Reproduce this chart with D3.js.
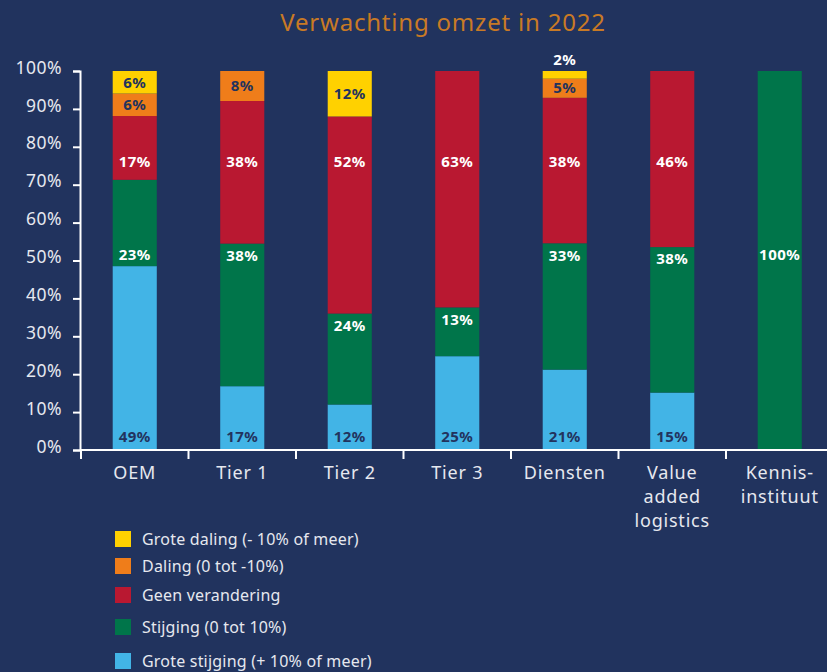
<!DOCTYPE html>
<html>
<head>
<meta charset="utf-8">
<script src="https://cdn.jsdelivr.net/npm/d3@7"></script>
<style>
  body { margin: 0; background: #21335e; }
  svg { display: block; font-family: "Noto Sans", sans-serif; }
</style>
</head>
<body>
<div class="chart"></div>
<script>
// Canvas
var svgWidth = 827;
var svgHeight = 672;

// Data (percentages per category)
var categories = ["OEM", "Tier 1", "Tier 2", "Tier 3", "Diensten", "Value added logistics", "Kennis-instituut"];
var categoryLines = [["OEM"], ["Tier 1"], ["Tier 2"], ["Tier 3"], ["Diensten"], ["Value", "added", "logistics"], ["Kennis-", "instituut"]];
var groteStijging = [49, 17, 12, 25, 21, 15, 0];
var stijging      = [23, 38, 24, 13, 33, 38, 100];
var geenVerandering = [17, 38, 52, 63, 38, 46, 0];
var daling        = [6, 8, 0, 0, 5, 0, 0];
var groteDaling   = [6, 0, 12, 0, 2, 0, 0];
var seriesNames = ["Grote stijging (+ 10% of meer)", "Stijging (0 tot 10%)", "Geen verandering", "Daling (0 tot -10%)", "Grote daling (- 10% of meer)"];
var yTicks = [0, 0.1, 0.2, 0.3, 0.4, 0.5, 0.6, 0.7, 0.8, 0.9, 1];

var keys = ["gs", "s", "g", "d", "gd"];
var colors = { gs: "#42b4e6", s: "#00754a", g: "#b91831", d: "#ef7d1a", gd: "#ffd100" };
var labelColors = { gs: "#22335e", s: "#ffffff", g: "#ffffff", d: "#22335e", gd: "#22335e" };

var rows = categories.map(function(c, i) {
  return { cat: c, gs: groteStijging[i], s: stijging[i], g: geenVerandering[i], d: daling[i], gd: groteDaling[i] };
});

var svg = d3.select(".chart").append("svg")
  .attr("width", svgWidth)
  .attr("height", svgHeight);

svg.append("rect").attr("width", svgWidth).attr("height", svgHeight).attr("fill", "#21335e");

// Title
svg.append("text")
  .attr("x", 443).attr("y", 31)
  .attr("text-anchor", "middle")
  .attr("fill", "#c97a25")
  .attr("font-size", 24)
  .attr("letter-spacing", 0.8)
  .text("Verwachting omzet in 2022");

// Scales
var x = d3.scaleBand().domain(categories).range([81, 833.5]).padding(0);
var y = d3.scaleLinear().domain([0, 1]).range([450, 71]);
var barW = x.bandwidth() * 0.41;

var stacked = d3.stack().keys(keys).offset(d3.stackOffsetExpand)(rows);

// Bars
var layers = svg.append("g").selectAll("g")
  .data(stacked)
  .enter().append("g")
  .attr("fill", function(d) { return colors[d.key]; });

layers.selectAll("rect")
  .data(function(d) { return d; })
  .enter().append("rect")
  .attr("x", function(d) { return x(d.data.cat) + (x.bandwidth() - barW) / 2; })
  .attr("width", barW)
  .attr("y", function(d) { return y(d[1]); })
  .attr("height", function(d) { return y(d[0]) - y(d[1]); });

// Labels
function labelY(key, d) {
  var top = y(d[1]), bottom = y(d[0]);
  if (key === "gs") return y(0) - 13;
  if (key === "s") return Math.max(top + 12, y(0.515));
  if (key === "g") return Math.max(top + 12, y(0.76));
  if (bottom - top < 12) return y(1) - 11;
  return (top + bottom) / 2;
}

stacked.forEach(function(layer) {
  svg.append("g").selectAll("text")
    .data(layer.filter(function(d) { return d.data[layer.key] > 0; }))
    .enter().append("text")
    .attr("x", function(d) { return x(d.data.cat) + x.bandwidth() / 2; })
    .attr("y", function(d) { return labelY(layer.key, d); })
    .attr("dy", "0.35em")
    .attr("text-anchor", "middle")
    .attr("font-size", 15)
    .attr("letter-spacing", 0.5)
    .attr("font-weight", "bold")
    .attr("fill", function(d) {
      return (y(d[0]) - y(d[1]) < 12) ? "#ffffff" : labelColors[layer.key];
    })
    .text(function(d) { return d.data[layer.key] + "%"; });
});

// Y axis
var yAxis = svg.append("g")
  .attr("transform", "translate(80,0)")
  .call(d3.axisLeft(y).tickValues(yTicks).tickFormat(d3.format(".0%")).tickSize(7).tickPadding(11));
yAxis.selectAll("path, line").attr("stroke", "#ffffff").attr("stroke-width", 2);
yAxis.selectAll("text")
  .attr("fill", "#e6e8ef")
  .attr("font-size", 17.5)
  .attr("letter-spacing", 0.5)
  .attr("dy", "0.12em")
  .attr("font-family", "Noto Sans");

// X axis
var xAxis = svg.append("g")
  .attr("transform", "translate(0,450)")
  .call(d3.axisBottom(x).tickSize(0).tickSizeOuter(0).tickFormat(""));
xAxis.select(".domain").attr("stroke", "#ffffff").attr("stroke-width", 2).attr("d", "M80,0H827");

xAxis.selectAll(".boundary")
  .data(categories)
  .enter().append("line")
  .attr("class", "boundary")
  .attr("x1", function(d) { return x(d); })
  .attr("x2", function(d) { return x(d); })
  .attr("y1", 0).attr("y2", 9)
  .attr("stroke", "#ffffff").attr("stroke-width", 2);

var catLabels = xAxis.selectAll(".cat")
  .data(categories)
  .enter().append("text")
  .attr("class", "cat")
  .attr("text-anchor", "middle")
  .attr("fill", "#e6e8ef")
  .attr("font-size", 18)
  .attr("letter-spacing", 0.8)
  .attr("font-family", "Noto Sans");

catLabels.each(function(d, i) {
  var t = d3.select(this);
  categoryLines[i].forEach(function(line, j) {
    t.append("tspan")
      .attr("x", x(d) + x.bandwidth() / 2)
      .attr("y", 29 + j * 24)
      .text(line);
  });
});

// Legend (top to bottom: grote daling ... grote stijging)
var legendKeys = keys.slice().reverse();
var legendNames = seriesNames.slice().reverse();
var legendY = [539, 566, 595, 627, 661];

var legend = svg.append("g").selectAll("g")
  .data(legendKeys)
  .enter().append("g")
  .attr("transform", function(d, i) { return "translate(115," + legendY[i] + ")"; });

legend.append("rect")
  .attr("x", 0).attr("y", -8)
  .attr("width", 16).attr("height", 16)
  .attr("fill", function(d) { return colors[d]; });

legend.append("text")
  .attr("x", 27).attr("dy", "0.35em")
  .attr("fill", "#e6e8ef")
  .attr("font-size", 16)
  .attr("letter-spacing", 0.2)
  .text(function(d, i) { return legendNames[i]; });
</script>
</body>
</html>
